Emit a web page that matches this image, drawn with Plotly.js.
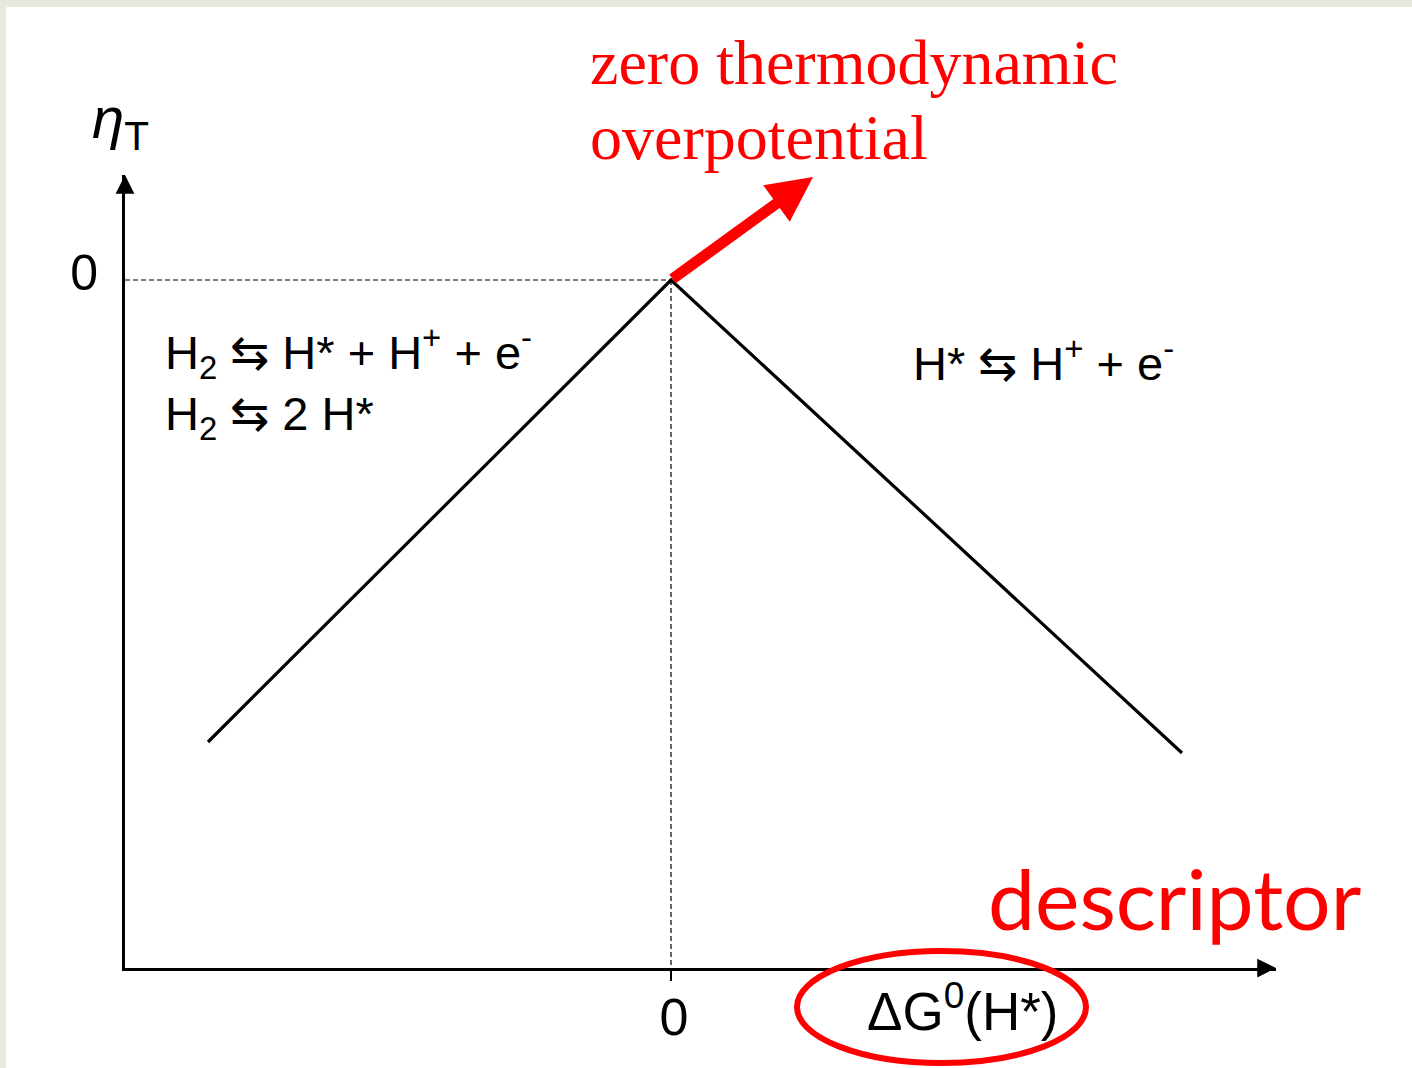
<!DOCTYPE html>
<html>
<head>
<meta charset="utf-8">
<script src="https://cdn.plot.ly/plotly-3.0.1.min.js"></script>
<style>
  html, body { margin: 0; padding: 0; background: #ffffff; }
  #chart { width: 1412px; height: 1068px; }
</style>
</head>
<body>
<div id="chart"></div>
<script>
// ---- data (arbitrary units: 0 at volcano top) ----
const deltaG = [-4.63, 0, 5.11];        // ΔG0(H*) along the volcano
const etaT   = [-4.62, 0, -4.73];       // η_T along the volcano
const hRefX  = [-5.46, 0];              // dashed guide at η_T = 0
const hRefY  = [0, 0];
const vRefX  = [0, 0];                  // dashed guide at ΔG = 0
const vRefY  = [0, -6.88];
const xRange = [-5.46, 6.05];
const yRange = [-6.88, 1.05];
const xTickVals = [0];
const xTickText = ['0'];
const yTickVals = [0];
const yTickText = ['0'];
const arrowTip  = [1.42, 1.03];         // tip of the red arrow (from the top)

const W = 1412, H = 1068;
const px = v => v / W;
const py = v => 1 - v / H;

const sans = 'Liberation Sans, Arial, sans-serif';
const serif = 'Liberation Serif, Times New Roman, serif';
const red = '#ff0000';

const traces = [
  { x: hRefX, y: hRefY, mode: 'lines', line: { color: '#000', width: 1.2, dash: '5px,3px' }, hoverinfo: 'skip', showlegend: false },
  { x: vRefX, y: vRefY, mode: 'lines', line: { color: '#000', width: 1.2, dash: '5px,3px' }, hoverinfo: 'skip', showlegend: false },
  { x: deltaG, y: etaT, mode: 'lines', line: { color: '#000', width: 3.2 }, hoverinfo: 'skip', showlegend: false }
];

const layout = {
  width: W, height: H,
  margin: { l: 0, r: 0, t: 0, b: 0, pad: 0 },
  paper_bgcolor: '#ffffff',
  plot_bgcolor: 'rgba(0,0,0,0)',
  showlegend: false,
  hovermode: false,
  xaxis: {
    domain: [125 / W, 1276 / W],
    range: xRange,
    showgrid: false, zeroline: false,
    showline: true, linecolor: '#000', linewidth: 3,
    tickmode: 'array', tickvals: xTickVals, ticktext: xTickText,
    ticks: 'outside', ticklen: 10, tickwidth: 2, tickcolor: '#000',
    ticklabelstandoff: -8,
    ticklabelshift: 3,
    tickfont: { family: sans, size: 52, color: '#000' },
    fixedrange: true
  },
  yaxis: {
    domain: [(H - 968) / H, (H - 175) / H],
    range: yRange,
    showgrid: false, zeroline: false,
    showline: true, linecolor: '#000', linewidth: 3,
    tickmode: 'array', tickvals: yTickVals, ticktext: yTickText,
    ticks: '',
    ticklabelstandoff: 14,
    ticklabelshift: -8,
    tickfont: { family: sans, size: 50, color: '#000' },
    fixedrange: true
  },
  shapes: [
    // slide border
    { type: 'rect', xref: 'paper', yref: 'paper', x0: 0, x1: px(6), y0: 0, y1: 1, fillcolor: '#e8e8de', line: { width: 0 }, layer: 'below' },
    { type: 'rect', xref: 'paper', yref: 'paper', x0: 0, x1: 1, y0: py(7), y1: 1, fillcolor: '#e8e8de', line: { width: 0 }, layer: 'below' },
    // red ellipse around the x-axis title
    { type: 'circle', xref: 'paper', yref: 'paper', x0: px(797), x1: px(1086), y0: py(951), y1: py(1063), line: { color: red, width: 6 }, fillcolor: 'rgba(0,0,0,0)' }
  ],
  annotations: [
    // axis arrowheads
    { xref: 'x', yref: 'y', axref: 'x', ayref: 'y', x: xRange[0], y: yRange[1], ax: xRange[0], ay: yRange[1] - 0.2, text: '', showarrow: true, arrowhead: 2, arrowsize: 1.25, arrowwidth: 3, arrowcolor: '#000', standoff: 0, startstandoff: 0 },
    { xref: 'x', yref: 'y', axref: 'x', ayref: 'y', x: xRange[1], y: yRange[0], ax: xRange[1] - 0.2, ay: yRange[0], text: '', showarrow: true, arrowhead: 2, arrowsize: 1.25, arrowwidth: 3, arrowcolor: '#000', standoff: 0, startstandoff: 0 },
    // red arrow from the volcano top
    { xref: 'x', yref: 'y', axref: 'x', ayref: 'y', x: arrowTip[0], y: arrowTip[1], ax: 0, ay: 0, text: '', showarrow: true, arrowhead: 2, arrowsize: 0.82, arrowwidth: 11, arrowcolor: red, standoff: 0, startstandoff: 0 },
    // axis titles
    { xref: 'paper', yref: 'paper', x: px(90), y: py(122), xanchor: 'left', yanchor: 'middle', showarrow: false,
      text: '<i>η</i><sub>T</sub>', font: { family: sans, size: 58, color: '#000' } },
    { xref: 'paper', yref: 'paper', x: px(962), y: py(1007), xanchor: 'center', yanchor: 'middle', showarrow: false,
      text: 'ΔG<sup>0</sup>(H*)', font: { family: sans, size: 53, color: '#000' } },
    // reaction labels
    { xref: 'paper', yref: 'paper', x: px(163), y: py(383), xanchor: 'left', yanchor: 'middle', showarrow: false, align: 'left',
      text: 'H<sub>2</sub> ⇆ H* + H<sup>+</sup> + e<sup>-</sup><br>H<sub>2</sub> ⇆ 2 H*', font: { family: sans, size: 47, color: '#000' } },
    { xref: 'paper', yref: 'paper', x: px(911), y: py(360), xanchor: 'left', yanchor: 'middle', showarrow: false, align: 'left',
      text: 'H* ⇆ H<sup>+</sup> + e<sup>-</sup>', font: { family: sans, size: 47, color: '#000' } },
    // red callouts
    { xref: 'paper', yref: 'paper', x: px(588), y: py(62), xanchor: 'left', yanchor: 'middle', showarrow: false, align: 'left',
      text: 'zero thermodynamic', font: { family: serif, size: 64, color: red } },
    { xref: 'paper', yref: 'paper', x: px(588), y: py(138), xanchor: 'left', yanchor: 'middle', showarrow: false, align: 'left',
      text: 'overpotential', font: { family: serif, size: 64, color: red } },
    { xref: 'paper', yref: 'paper', x: px(986), y: py(897), xanchor: 'left', yanchor: 'middle', showarrow: false, align: 'left',
      text: 'descriptor', font: { family: 'Lato, Liberation Sans, sans-serif', size: 84, color: red } }
  ]
};

Plotly.newPlot('chart', traces, layout, { displayModeBar: false, staticPlot: true });
</script>
</body>
</html>
